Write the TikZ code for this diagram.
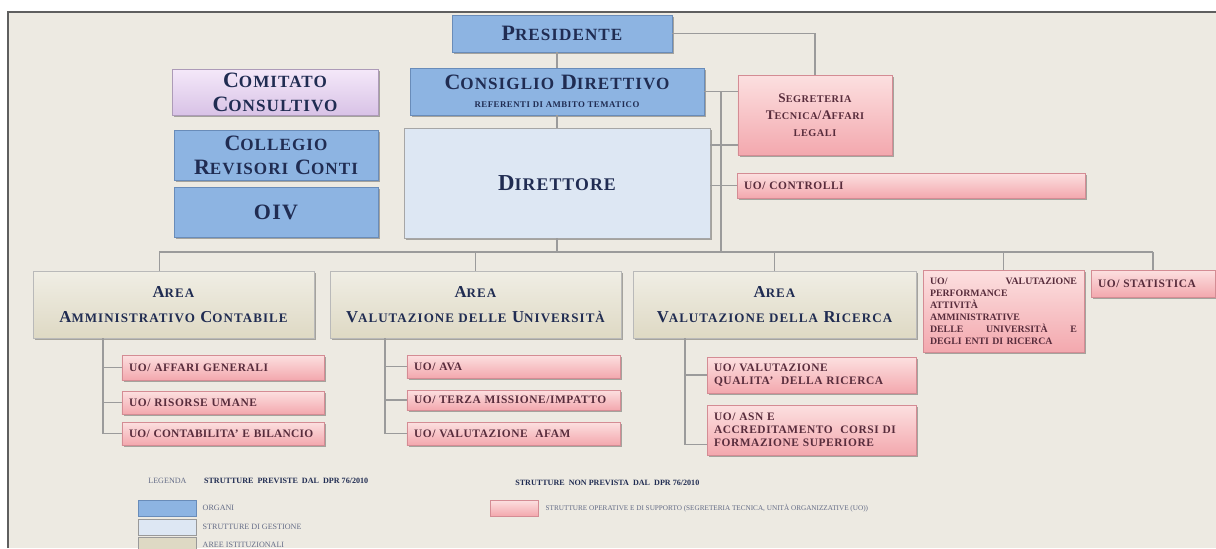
\documentclass[tikz,border=0pt]{standalone}
\usepackage{fontspec}
\setmainfont{Liberation Serif}
\usepackage{graphicx}
\usetikzlibrary{positioning,shadows,calc}
\definecolor{bgcolor}{RGB}{237,234,226}
\definecolor{framecolor}{RGB}{95,95,95}
\definecolor{orgcolor}{RGB}{141,180,226}
\definecolor{orgedge}{RGB}{105,140,185}
\definecolor{gestcolor}{RGB}{221,231,243}
\definecolor{areacolor}{RGB}{222,217,196}
\definecolor{uotop}{RGB}{252,224,224}
\definecolor{uobot}{RGB}{243,168,174}
\definecolor{uoedge}{RGB}{212,140,148}
\definecolor{lavtop}{RGB}{244,232,249}
\definecolor{lavbot}{RGB}{216,194,230}
\definecolor{txtcolor}{RGB}{32,44,82}
\definecolor{uotxt}{RGB}{88,44,60}
\definecolor{linkcolor}{RGB}{155,155,155}
\newcommand{\fsc}[1]{\scalebox{0.78}{#1}}
\newcommand{\spaced}[1]{\addfontfeature{LetterSpace=#1}}

\begin{document}
\begin{tikzpicture}[
  x=0.02cm, y=-0.02cm,
  box/.style   = {rectangle, align=center, inner sep=2pt,
                  drop shadow={shadow xshift=0.9pt, shadow yshift=-0.9pt,
                               opacity=0.3, fill=black}},
  organ/.style = {box, fill=orgcolor, draw=orgedge,
                  font=\fontsize{12.5}{13.5}\selectfont\bfseries\spaced{6}\color{txtcolor}},
  advis/.style = {box, top color=lavtop, bottom color=lavbot, draw=lavbot!80!black,
                  font=\fontsize{12.5}{14}\selectfont\bfseries\spaced{6}\color{txtcolor}},
  gest/.style  = {box, fill=gestcolor, draw=gray!70,
                  font=\fontsize{13}{14}\selectfont\bfseries\spaced{6}\color{txtcolor}},
  area/.style  = {box, top color=areacolor!45!white, bottom color=areacolor,
                  draw=gray!55, minimum width=#1, minimum height=1.34cm,
                  font=\fontsize{9.5}{14}\selectfont\bfseries\spaced{8}\color{txtcolor}},
  uo/.style    = {box, top color=uotop, bottom color=uobot, draw=uoedge,
                  align=left, text width=#1, inner xsep=4pt, inner ysep=1pt,
                  font=\fontsize{6.5}{7.4}\selectfont\bfseries\spaced{5}\color{uotxt}},
  swatch/.style= {rectangle, minimum width=1.16cm, minimum height=0.32cm,
                  inner sep=0pt},
  key/.style   = {font=\fontsize{4.6}{5}\selectfont\color{txtcolor!70}, inner sep=0pt},
  link/.style  = {draw=linkcolor, line width=0.6pt},
]
\useasboundingbox (0,0) rectangle (1216,548);
\fill[white] (0,0) rectangle (1216,548);
\fill[bgcolor] (8,12) rectangle (1216,548);
\draw[framecolor, line width=0.8pt] (8,548) -- (8,12) -- (1216,12);

% governing bodies
\node[organ, minimum width=4.4cm, minimum height=0.74cm] (pres) at (562,33.5)
      {P\fsc{RESIDENTE}};
\node[organ, minimum width=5.88cm, minimum height=0.94cm] (cons) at (557,91.5)
      {C\fsc{ONSIGLIO} D\fsc{IRETTIVO}\\[-3pt]
       {\fontsize{5}{5.5}\selectfont REFERENTI DI AMBITO TEMATICO}};
\node[advis, minimum width=4.12cm, minimum height=0.9cm] (comi) at (275,92.5)
      {C\fsc{OMITATO}\\C\fsc{ONSULTIVO}};
\node[organ, minimum width=4.08cm, minimum height=1.0cm] (coll) at (276,155)
      {C\fsc{OLLEGIO}\\R\fsc{EVISORI} C\fsc{ONTI}};
\node[organ, minimum width=4.08cm, minimum height=1.0cm] (oiv) at (276,212) {OIV};
\node[gest, minimum width=6.12cm, minimum height=2.2cm] (dir) at (557,183)
      {D\fsc{IRETTORE}};

% staff units
\node[uo=2.8cm, align=center, minimum height=1.6cm,
      font=\fontsize{7.5}{9.5}\selectfont\bfseries\spaced{5}\color{uotxt}] (segr) at (815,115)
      {S\fsc{EGRETERIA}\\T\fsc{ECNICA}/A\fsc{FFARI}\\\fsc{LEGALI}};
\node[uo=6.68cm, minimum height=0.5cm] (ctrl) at (911,185.5) {UO/ CONTROLLI};

% areas
\node[area=5.62cm] (ac) at (173.5,304.5) {A\fsc{REA}\\A\fsc{MMINISTRATIVO} C\fsc{ONTABILE}};
\node[area=5.82cm] (vu) at (475.5,304.5) {A\fsc{REA}\\V\fsc{ALUTAZIONE DELLE} U\fsc{NIVERSITÀ}};
\node[area=5.66cm] (vr) at (774.5,304.5) {A\fsc{REA}\\V\fsc{ALUTAZIONE DELLA} R\fsc{ICERCA}};
\node[uo=2.94cm, minimum height=1.64cm,
      font=\fontsize{5.6}{6.8}\selectfont\bfseries\color{uotxt}] (perf) at (1003.5,311)
      {UO/\hfill VALUTAZIONE\\PERFORMANCE\\ATTIVITÀ\\AMMINISTRATIVE\\
       DELLE\hfill UNIVERSITÀ\hfill E\\DEGLI ENTI DI RICERCA};
\node[uo=2.2cm, minimum height=0.54cm] (stat) at (1153,283.5) {UO/ STATISTICA};

% operational units
\node[uo=3.76cm, minimum height=0.5cm]  (ac1) at (223,367.5) {UO/ AFFARI GENERALI};
\node[uo=3.76cm, minimum height=0.46cm] (ac2) at (223,402.5) {UO/ RISORSE UMANE};
\node[uo=3.76cm, minimum height=0.46cm,
      font=\fontsize{6.5}{7.4}\selectfont\bfseries\spaced{2}\color{uotxt}] (ac3) at (223,433.5)
      {UO/ CONTABILITA'\ E BILANCIO};
\node[uo=3.98cm, minimum height=0.46cm] (vu1) at (513.5,366.5) {UO/ AVA};
\node[uo=3.98cm, minimum height=0.4cm]  (vu2) at (513.5,400) {UO/ TERZA MISSIONE/IMPATTO};
\node[uo=3.98cm, minimum height=0.46cm] (vu3) at (513.5,433.5) {UO/ VALUTAZIONE\ \ AFAM};
\node[uo=3.9cm, minimum height=0.72cm]  (vr1) at (811.5,375)
      {UO/ VALUTAZIONE\\QUALITA'\ \ DELLA RICERCA};
\node[uo=3.9cm, minimum height=1.0cm]   (vr2) at (811.5,430)
      {UO/ ASN E\\ACCREDITAMENTO\ \ CORSI DI\\FORMAZIONE SUPERIORE};

% connectors
\coordinate (bus) at (0,252);
\coordinate (side) at ($(cons.east)!0.5!(cons.east -| segr.west)$);
\draw[link] (pres.south -| cons.north) -- (cons.north);
\draw[link] (cons.south) -- (dir.north);
\draw[link] (pres.east) -| (segr.north);
\draw[link] (cons.east) -- (cons.east -| segr.west);
\draw[link] (side) -- (side |- bus);
\draw[link] (dir.east |- 0,145) -- (segr.west |- 0,145);
\draw[link] (dir.east |- ctrl.west) -- (ctrl.west);
\draw[link] (dir.south) -- (dir.south |- bus);
\draw[link] ([xshift=-8]ac.north |- bus) -- (stat.north |- bus);
\draw[link] ([xshift=-8]ac.north) -- ([xshift=-8]ac.north |- bus);
\foreach \n in {vu,vr,perf,stat}{
  \draw[link] (\n.north) -- (\n.north |- bus);
}
\coordinate (ac-trunk) at (103,338);
\coordinate (vu-trunk) at (385,338);
\coordinate (vr-trunk) at (685,338);
\foreach \t/\u in {ac/ac1, ac/ac2, ac/ac3, vu/vu1, vu/vu2, vu/vu3, vr/vr1}{
  \draw[link] (\t-trunk |- \u.west) -- (\u.west);
}
\draw[link] (ac-trunk) |- (ac3.west);
\draw[link] (vu-trunk) |- (vu3.west);
\draw[link] (vr-trunk) |- ([yshift=-8]vr2.west);

% legend
\node[key, anchor=west] (leg-hdr) at (148,481)
      {LEGENDA\hspace{10pt}\textbf{\color{txtcolor}STRUTTURE\ \ PREVISTE\ \ DAL\ \ DPR 76/2010}};
\node[swatch, fill=orgcolor, draw=orgedge] (leg-org) at (167,508) {};
\node[swatch, fill=gestcolor, draw=gray!80] (leg-gest) at (167,527) {};
\node[swatch, fill=areacolor, draw=gray!80] (leg-area) at (167,545) {};
\node[key, right=0.12cm of leg-org]  (leg-org-t)  {ORGANI};
\node[key, right=0.12cm of leg-gest] (leg-gest-t) {STRUTTURE DI GESTIONE};
\node[key, right=0.12cm of leg-area] (leg-area-t) {AREE ISTITUZIONALI};
\node[key, anchor=west] (leg-hdr2) at (515,483)
      {\textbf{\color{txtcolor}STRUTTURE\ \ NON PREVISTA\ \ DAL\ \ DPR 76/2010}};
\node[swatch, minimum width=0.96cm, top color=uotop, bottom color=uobot,
      draw=uoedge] (leg-uo) at (514,508) {};
\node[key, right=0.14cm of leg-uo, font=\fontsize{4.1}{5}\selectfont\color{txtcolor!70}] (leg-uo-t)
      {STRUTTURE OPERATIVE E DI SUPPORTO (SEGRETERIA TECNICA, UNITÀ ORGANIZZATIVE (UO))};
\end{tikzpicture}
\end{document}
